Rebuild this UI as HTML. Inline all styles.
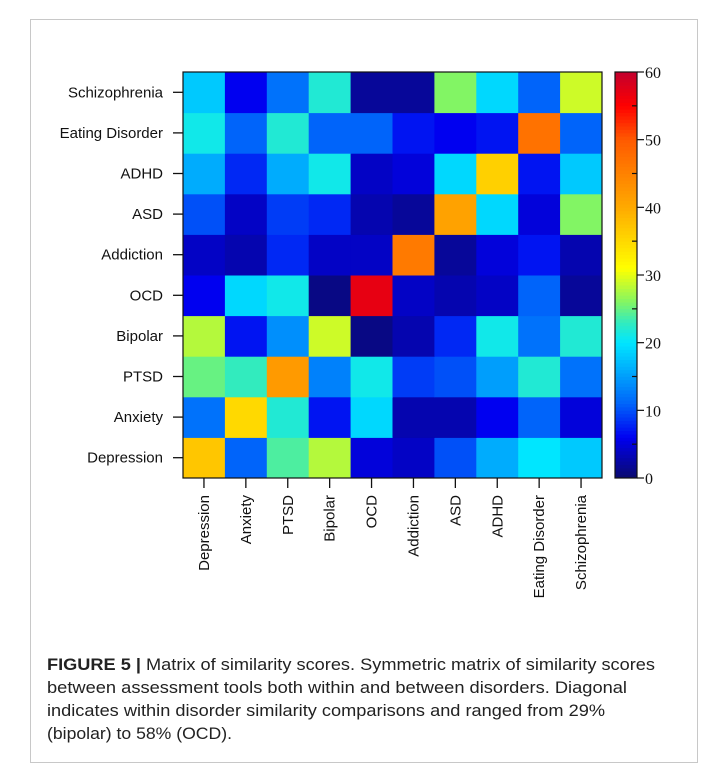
<!DOCTYPE html>
<html><head><meta charset="utf-8"><style>
html,body{margin:0;padding:0;background:#fff;}
svg{display:block;font-family:"Liberation Sans",Arial,sans-serif;}
</style></head><body>
<svg id="fig" width="718" height="778" viewBox="0 0 718 778">
<rect x="30.5" y="19.5" width="667" height="743" fill="#fff" stroke="#c8c8c8"/>
<g id="cells"></g>
<rect x="183" y="72" width="419" height="406" fill="none" stroke="#111" stroke-width="1.2"/>
<g id="ylab"></g>
<g id="xlab"></g>
<g id="cbar"></g>
<g font-size="17" fill="#222">
<text x="47" y="670" textLength="608" lengthAdjust="spacingAndGlyphs"><tspan font-weight="bold">FIGURE 5 |</tspan> Matrix of similarity scores. Symmetric matrix of similarity scores</text>
<text x="47" y="693" textLength="580" lengthAdjust="spacingAndGlyphs">between assessment tools both within and between disorders. Diagonal</text>
<text x="47" y="716" textLength="558" lengthAdjust="spacingAndGlyphs">indicates within disorder similarity comparisons and ranged from 29%</text>
<text x="47" y="739" textLength="185" lengthAdjust="spacingAndGlyphs">(bipolar) to 58% (OCD).</text>
</g>
</svg>
<script>
const categories=["Depression","Anxiety","PTSD","Bipolar","OCD","Addiction","ASD","ADHD","Eating Disorder","Schizophrenia"];
// rows listed bottom (Depression) to top (Schizophrenia), columns in category order
const rowDepression=[37,11,24,28,5,4,10,16,20,18];
const rowAnxiety=[12,35,22,7,19,3,3,6,11,5];
const rowPTSD=[25,23,42,13,21,9,10,15,22,12];
const rowBipolar=[28,7,14,29,1,3,8,21,12,22];
const rowOCD=[6,19,21,1,57,4,3,4,11,2];
const rowAddiction=[4,3,8,4,4,46,2,5,7,3];
const rowASD=[10,4,9,8,3,2,41,19,5,26];
const rowADHD=[16,8,16,21,4,5,19,36,7,18];
const rowEating=[21,11,22,11,11,7,6,7,47,11];
const rowSchizophrenia=[18,6,12,22,2,2,26,19,11,29];
const cbTicks=[0,10,20,30,40,50,60];
const NS="http://www.w3.org/2000/svg";
const rows=[rowDepression,rowAnxiety,rowPTSD,rowBipolar,rowOCD,rowAddiction,rowASD,rowADHD,rowEating,rowSchizophrenia];
const X0=183,X1=602,Y0=72,Y1=478,VMAX=60;
const n=categories.length,cw=(X1-X0)/n,ch=(Y1-Y0)/n;
const xs=i=>X0+i*cw, ys=j=>Y1-(j+1)*ch, cy=v=>Y1-(v/VMAX)*(Y1-Y0);
const stops=[[0,[10,10,110]],[6,[0,0,240]],[11,[0,100,250]],[20,[0,230,255]],[23,[50,235,190]],[26,[130,245,100]],[31,[255,255,0]],[40,[255,170,0]],[50,[255,90,0]],[55,[255,0,0]],[60,[195,0,45]]];
function col(v){for(let k=1;k<stops.length;k++){if(v<=stops[k][0]){const a=stops[k-1],b=stops[k],t=(v-a[0])/(b[0]-a[0]);return 'rgb('+a[1].map((c,i)=>Math.round(c+(b[1][i]-c)*t)).join(',')+')';}}return 'rgb(195,0,45)';}
function mk(tag,at,p){const e=document.createElementNS(NS,tag);for(const k in at)e.setAttribute(k,at[k]);p.appendChild(e);return e;}
const cells=document.getElementById('cells');
rows.forEach((r,j)=>r.forEach((v,i)=>{
 const e=mk('rect',{x:xs(i),y:ys(j),width:cw+0.5,height:ch+0.5,fill:col(v)},cells);
 
 
}));
const yl=document.getElementById('ylab'),xl=document.getElementById('xlab');
categories.forEach((c,j)=>{
 const yc=ys(j)+ch/2;
 mk('line',{x1:173,x2:183,y1:yc,y2:yc,stroke:'#111','stroke-width':1.3},yl);
 const t=mk('text',{x:163,y:yc+5,'text-anchor':'end','font-size':15,fill:'#111'},yl);
 t.textContent=c;
 
 
 const xc=xs(j)+cw/2;
 mk('line',{x1:xc,x2:xc,y1:478,y2:488,stroke:'#111','stroke-width':1.3},xl);
 const u=mk('text',{x:0,y:0,'text-anchor':'end','font-size':15,fill:'#111',transform:'translate('+(xc+5)+',495) rotate(-90)'},xl);
 u.textContent=c;
 
 
});
const cb=document.getElementById('cbar');
for(let v=0;v<60;v+=0.5){mk('rect',{x:615,y:cy(v+0.5),width:22,height:(Y1-Y0)/120+0.4,fill:col(v+0.25)},cb);}
mk('rect',{x:615,y:72,width:22,height:406,fill:'none',stroke:'#111','stroke-width':1.2},cb);
for(let v=0;v<=60;v+=5){const y=cy(v);mk('line',{x1:637,x2:v%10?632:644,y1:y,y2:y,stroke:'#111','stroke-width':1.2},cb);}
cbTicks.forEach(v=>{const t=mk('text',{x:645,y:cy(v)+6,'font-size':16,fill:'#111','font-family':'Liberation Serif,serif'},cb);t.textContent=v;
 
 });
</script>
</body></html>
